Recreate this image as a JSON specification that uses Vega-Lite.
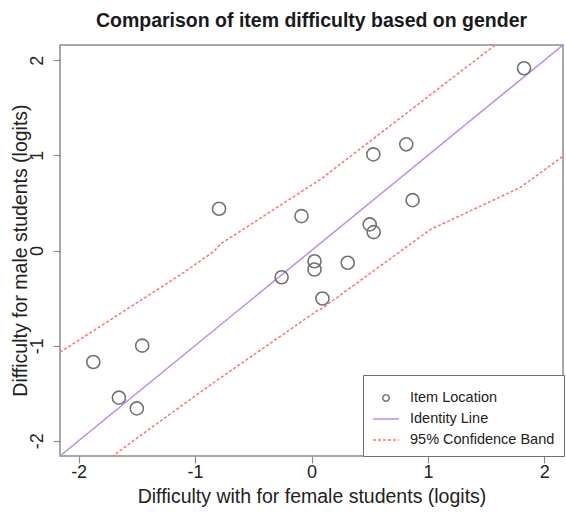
{
  "$schema": "https://vega.github.io/schema/vega-lite/v6.json",
  "width": 503,
  "height": 411,
  "autosize": {"type": "none"},
  "padding": {"left": 60, "top": 45, "right": 3, "bottom": 61},
  "background": "white",
  "title": {
    "text": "Comparison of item difficulty based on gender",
    "font": "Liberation Sans",
    "fontSize": 19.5,
    "fontWeight": "bold",
    "color": "#1a1a1a",
    "anchor": "middle",
    "baseline": "alphabetic",
    "offset": -1
  },
  "config": {
    "view": {"stroke": "#8c8c8c", "strokeWidth": 1.5},
    "axis": {
      "grid": false,
      "domain": false,
      "tickColor": "#8c8c8c",
      "tickWidth": 1.2,
      "tickSize": 7,
      "labelFont": "Liberation Sans",
      "labelFontSize": 18,
      "labelColor": "#222222",
      "labelExpr": "replace(datum.label, '\u2212', '-')",
      "titleFont": "Liberation Sans",
      "titleFontSize": 19.5,
      "titleFontWeight": "normal",
      "titleColor": "#222222"
    }
  },
  "datasets": {
    "items": [
      {"female": 1.825, "male": 1.916, "kind": "Item Location"},
      {"female": 0.814, "male": 1.116, "kind": "Item Location"},
      {"female": 0.531, "male": 1.01, "kind": "Item Location"},
      {"female": -0.794, "male": 0.439, "kind": "Item Location"},
      {"female": -0.086, "male": 0.361, "kind": "Item Location"},
      {"female": 0.868, "male": 0.529, "kind": "Item Location"},
      {"female": 0.5, "male": 0.274, "kind": "Item Location"},
      {"female": 0.534, "male": 0.193, "kind": "Item Location"},
      {"female": 0.026, "male": -0.113, "kind": "Item Location"},
      {"female": 0.026, "male": -0.2, "kind": "Item Location"},
      {"female": 0.311, "male": -0.129, "kind": "Item Location"},
      {"female": -0.257, "male": -0.281, "kind": "Item Location"},
      {"female": 0.094, "male": -0.505, "kind": "Item Location"},
      {"female": -1.874, "male": -1.172, "kind": "Item Location"},
      {"female": -1.454, "male": -1.0, "kind": "Item Location"},
      {"female": -1.654, "male": -1.547, "kind": "Item Location"},
      {"female": -1.5, "male": -1.66, "kind": "Item Location"}
    ],
    "identity": [
      {"female": -2.16, "male": -2.16, "kind": "Identity Line", "line": "identity"},
      {"female": 2.16, "male": 2.16, "kind": "Identity Line", "line": "identity"}
    ],
    "band": [
      {"female": -2.16, "male": -1.07, "kind": "95% Confidence Band", "line": "upper"},
      {"female": -1.12, "male": -0.25, "kind": "95% Confidence Band", "line": "upper"},
      {"female": -0.84, "male": -0.01, "kind": "95% Confidence Band", "line": "upper"},
      {"female": -0.78, "male": 0.07, "kind": "95% Confidence Band", "line": "upper"},
      {"female": 0.08, "male": 0.75, "kind": "95% Confidence Band", "line": "upper"},
      {"female": 1.45, "male": 2.04, "kind": "95% Confidence Band", "line": "upper"},
      {"female": 1.62, "male": 2.2, "kind": "95% Confidence Band", "line": "upper"},
      {"female": -1.75, "male": -2.2, "kind": "95% Confidence Band", "line": "lower"},
      {"female": -1.52, "male": -1.99, "kind": "95% Confidence Band", "line": "lower"},
      {"female": -0.865, "male": -1.41, "kind": "95% Confidence Band", "line": "lower"},
      {"female": 0.04, "male": -0.64, "kind": "95% Confidence Band", "line": "lower"},
      {"female": 0.1, "male": -0.6, "kind": "95% Confidence Band", "line": "lower"},
      {"female": 1.02, "male": 0.22, "kind": "95% Confidence Band", "line": "lower"},
      {"female": 1.79, "male": 0.66, "kind": "95% Confidence Band", "line": "lower"},
      {"female": 2.16, "male": 0.99, "kind": "95% Confidence Band", "line": "lower"}
    ]
  },
  "encoding": {
    "x": {
      "field": "female",
      "type": "quantitative",
      "scale": {"domain": [-2.16, 2.16], "nice": false, "zero": false},
      "axis": {
        "values": [-2, -1, 0, 1, 2],
        "title": "Difficulty with for female students (logits)",
        "labelPadding": 0,
        "titleX": 251.5,
        "titleY": 40,
        "titleAlign": "center",
        "titleBaseline": "middle"
      }
    },
    "y": {
      "field": "male",
      "type": "quantitative",
      "scale": {"domain": [-2.16, 2.16], "nice": false, "zero": false},
      "axis": {
        "values": [-2, -1, 0, 1, 2],
        "title": "Difficulty for male students (logits)",
        "labelAngle": -90,
        "labelAlign": "center",
        "labelBaseline": "bottom",
        "labelPadding": 7,
        "titleX": -40,
        "titleY": 205,
        "titleAngle": -90,
        "titleAlign": "center",
        "titleBaseline": "middle"
      }
    },
    "color": {
      "field": "kind",
      "type": "nominal",
      "scale": {
        "domain": ["Item Location", "Identity Line", "95% Confidence Band"],
        "range": ["#727272", "#c08cf0", "#ff7272"]
      },
      "legend": {
        "title": null,
        "orient": "none",
        "legendX": 303,
        "legendY": 330,
        "direction": "vertical",
        "fillColor": "white",
        "strokeColor": "#707070",
        "padding": 9,
        "rowPadding": 0,
        "symbolSize": 256,
        "symbolStrokeWidth": 1.5,
        "labelOffset": 10,
        "labelFont": "Liberation Sans",
        "labelFontSize": 14.5,
        "labelColor": "#222222",
        "encode": {
          "symbols": {
            "update": {
              "shape": {"signal": "datum.value === 'Item Location' ? 'circle' : 'stroke'"},
              "size": {"signal": "datum.value === 'Item Location' ? 40 : 676"},
              "strokeDash": {"signal": "datum.value === '95% Confidence Band' ? [3, 2] : [1, 0]"},
              "fill": {"value": "transparent"}
            }
          }
        }
      }
    }
  },
  "layer": [
    {
      "data": {"name": "identity"},
      "mark": {"type": "line", "strokeWidth": 1.5, "clip": true},
      "encoding": {"detail": {"field": "line"}}
    },
    {
      "data": {"name": "band"},
      "mark": {"type": "line", "strokeWidth": 1.5, "strokeDash": [3, 2], "clip": true},
      "encoding": {"detail": {"field": "line"}}
    },
    {
      "data": {"name": "items"},
      "mark": {"type": "point", "shape": "circle", "filled": false, "size": 170, "strokeWidth": 1.6, "opacity": 1}
    }
  ]
}
